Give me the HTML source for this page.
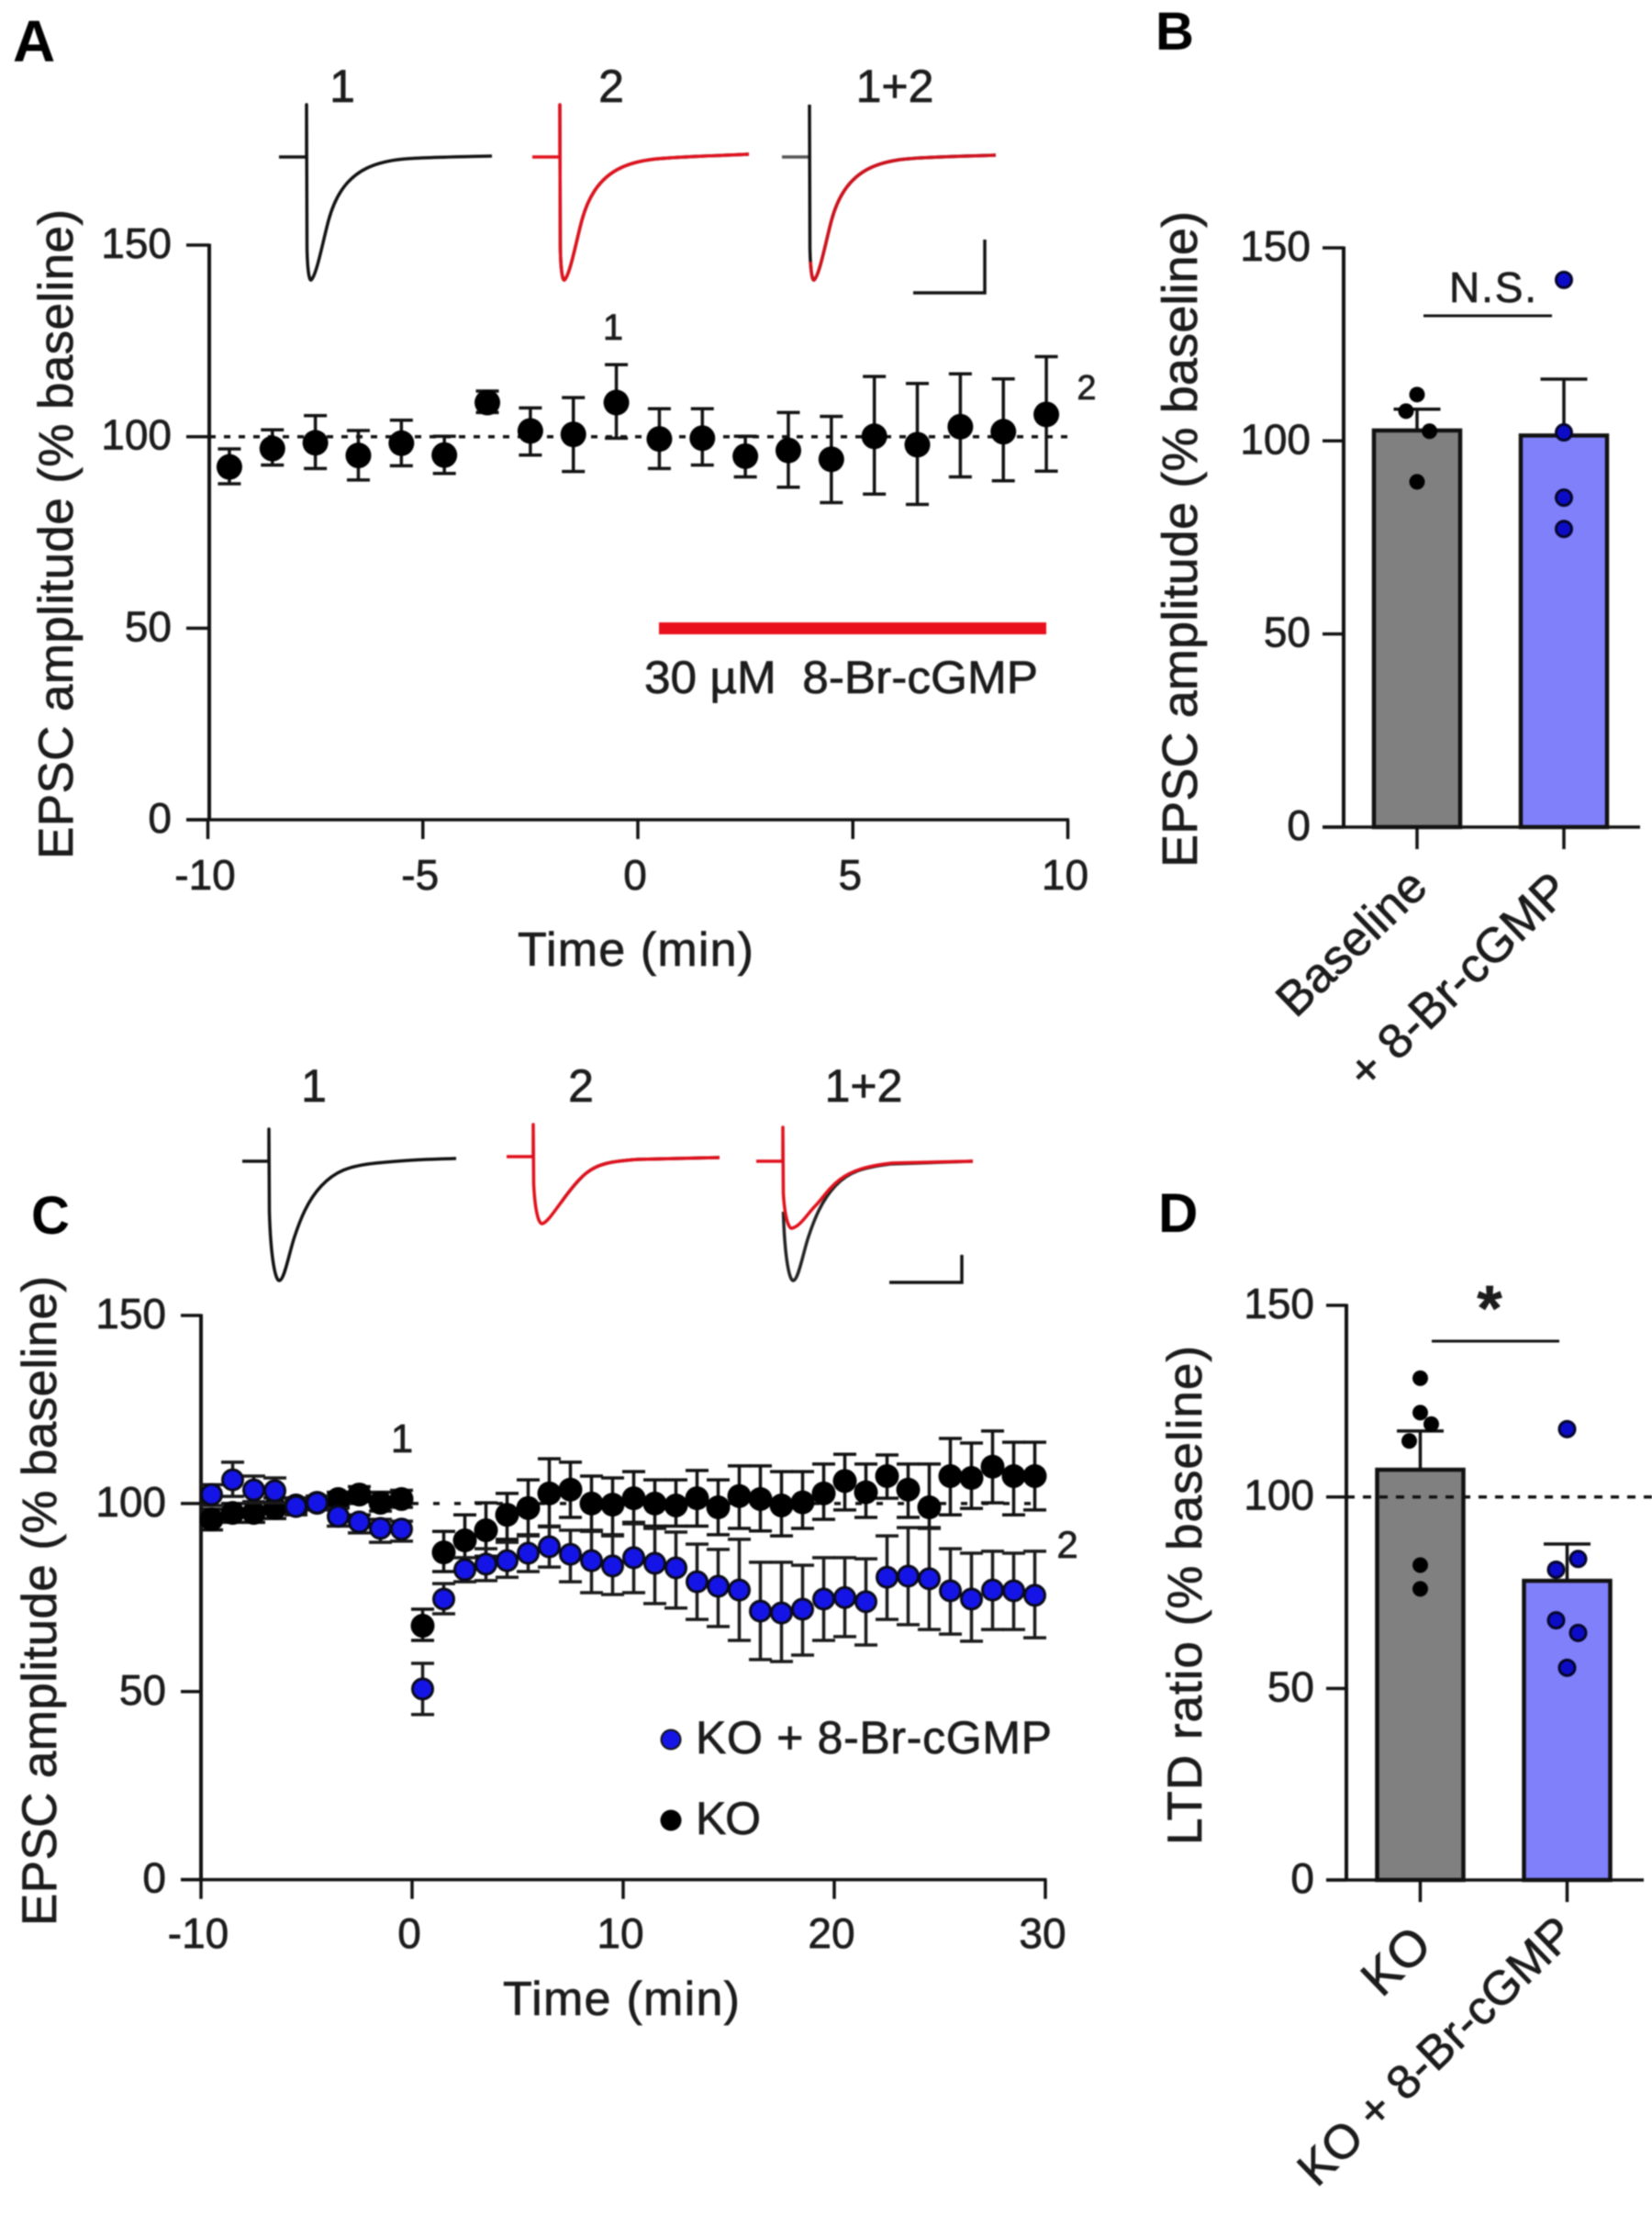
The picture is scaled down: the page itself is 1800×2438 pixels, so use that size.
<!DOCTYPE html>
<html lang="en">
<head>
<meta charset="utf-8">
<title>EPSC amplitude figure</title>
<style>
html,body{margin:0;padding:0;background:#fff;}
body{width:1800px;height:2438px;overflow:hidden;}
svg{display:block;filter:blur(0.8px);}
text{font-family:"Liberation Sans",sans-serif;fill:#1c1c1c;stroke:#1c1c1c;stroke-width:0.7;}
.letter{font-weight:bold;fill:#000;stroke:none;}
.trace{fill:none;stroke-width:3.5;stroke-linejoin:round;}
</style>
</head>
<body>
<svg id="figure" xmlns="http://www.w3.org/2000/svg" width="1800" height="2438" viewBox="0 0 1800 2438">
<rect width="1800" height="2438" fill="#fff"/>

<!-- Panel letters -->
<text class="letter" x="14" y="67" font-size="64">A</text>
<text class="letter" x="1259" y="54" font-size="58">B</text>
<text class="letter" x="34" y="1344" font-size="58">C</text>
<text class="letter" x="1262" y="1342" font-size="60">D</text>

<!-- Panel A traces -->
<g>
<text x="373" y="111" font-size="50" text-anchor="middle">1</text>
<text x="666" y="111" font-size="50" text-anchor="middle">2</text>
<text x="975" y="111" font-size="50" text-anchor="middle">1+2</text>
<path class="trace" stroke="#111" d="M304,171 H334 V114 L334.5,270 C335,295 337,306 339,305 C345,300 352,262 358,240 S375,195 400,183 S450,172 536,170"/>
<path class="trace" stroke="#111" stroke-width="4" d="M610,114 L610.5,270 C611,295 613,306 615,305 C621,300 628,262 634,240 S651,195 676,183 S726,172 816,168"/>
<path class="trace" stroke="#e0101c" stroke-width="3" d="M580,171 H610 V114 L610.5,270 C611,295 613,306 615,305 C621,300 628,262 634,240 S651,195 676,183 S726,172 816,168"/>
<path class="trace" stroke="#555" d="M852,171 H882"/>
<path class="trace" stroke="#111" stroke-width="4" d="M882,114 L882.5,270 C883,295 885,306 887,305 C893,300 900,262 906,240 S923,195 948,183 S998,172 1085,169"/>
<path class="trace" stroke="#d0101c" stroke-width="2.5" d="M883,285 C884,298 885,306 887,305 C893,300 900,262 906,240 S923,195 948,183 S998,172 1085,169"/>
<path fill="none" stroke="#111" stroke-width="3.5" d="M995,319 H1073 V261"/>
</g>
<text x="668" y="370" font-size="40" text-anchor="middle">1</text>
<text x="1184" y="435" font-size="38" text-anchor="middle">2</text>
<text x="702" y="755" font-size="50" textLength="429" lengthAdjust="spacingAndGlyphs">30 µM&#160;&#160;8-Br-cGMP</text>
<rect x="718" y="678" width="422" height="13" fill="#ea0f1c"/>
<text transform="translate(79,936) rotate(-90)" font-size="53" textLength="708">EPSC amplitude (% baseline)</text>
<text x="564" y="1052" font-size="52" textLength="257">Time (min)</text>

<!-- Panel B -->
<text transform="translate(1304,945) rotate(-90)" font-size="54" textLength="715">EPSC amplitude (% baseline)</text>
<text x="1579" y="329" font-size="46" textLength="95">N.S.</text>
<line x1="1551" y1="344" x2="1691" y2="344" stroke="#111" stroke-width="3"/>

<!-- Panel C traces -->
<g>
<text x="342" y="1200" font-size="50" text-anchor="middle">1</text>
<text x="633" y="1200" font-size="50" text-anchor="middle">2</text>
<text x="941" y="1200" font-size="50" text-anchor="middle">1+2</text>
<path class="trace" stroke="#111" d="M264,1265 H293 V1230 L293.5,1320 C295,1370 300,1396 304.5,1395 C310,1394 315,1365 321,1347 S335,1308 350,1292 S380,1270 410,1267 S460,1263 497,1262"/>
<path class="trace" stroke="#111" stroke-width="4" d="M612,1309 S628,1286 640,1277 S665,1265 695,1263 L784,1261"/>
<path class="trace" stroke="#e0101c" stroke-width="3" d="M552,1260 H581 V1225 L581.5,1290 C583,1320 587,1334 591,1333 C597,1331 605,1318 612,1309 S628,1286 640,1277 S665,1265 695,1263 L784,1261"/>
<path class="trace" stroke="#222" stroke-width="3" d="M853.5,1320 C855,1370 860,1396 864.5,1395 C870,1394 875,1365 881,1347 S895,1308 910,1292 S940,1272 970,1268 L1060,1265"/>
<path class="trace" stroke="#e0101c" d="M824,1265 H853 V1228 L853.5,1300 C855,1325 859,1339 863,1338 C872,1336 880,1322 888,1314 S902,1295 915,1285 S945,1270 972,1267 L1060,1265"/>
<path fill="none" stroke="#111" stroke-width="3.5" d="M969,1397 H1048 V1367"/>
</g>
<text x="438" y="1582" font-size="44" text-anchor="middle">1</text>
<text x="1163" y="1697" font-size="42" text-anchor="middle">2</text>
<text transform="translate(61,2098) rotate(-90)" font-size="53" textLength="708">EPSC amplitude (% baseline)</text>
<text x="548" y="2195" font-size="52" textLength="258">Time (min)</text>
<g>
<circle cx="731" cy="1895" r="10.5" fill="#1414e6" stroke="#111" stroke-width="2"/>
<text x="758" y="1910" font-size="50" textLength="388">KO + 8-Br-cGMP</text>
<circle cx="731" cy="1983" r="11.5" fill="#000"/>
<text x="758" y="1998" font-size="50" textLength="71">KO</text>
</g>

<!-- Panel D -->
<text transform="translate(1309,2010) rotate(-90)" font-size="53" textLength="544">LTD ratio (% baseline)</text>
<text x="1623" y="1449" font-size="70" font-weight="bold" text-anchor="middle">*</text>
<line x1="1560" y1="1461" x2="1699" y2="1461" stroke="#111" stroke-width="3"/>
</svg>

<script>
/* ---------- shared ticks ---------- */
const yTickValues = [0, 50, 100, 150];
const xTicksA = [-10, -5, 0, 5, 10];
const xTicksC = [-10, 0, 10, 20, 30];

/* ---------- panel A ---------- */
const timeA = [-9.5,-8.5,-7.5,-6.5,-5.5,-4.5,-3.5,-2.5,-1.5,-0.5,0.5,1.5,2.5,3.5,4.5,5.5,6.5,7.5,8.5,9.5];
const meanA = [92.1,96.9,98.4,95.1,98.3,95.2,108.9,101.5,100.6,108.9,99.4,99.6,94.9,96.4,94.1,100.1,97.9,102.6,101.3,105.8];
const upperA = [96.8,101.8,105.5,101.6,104.3,100.1,111.9,107.5,110.2,118.8,107.3,107.3,100.1,106.3,105.3,115.7,113.9,116.4,115.1,120.9];
const lowerA = [87.7,92.6,91.7,88.7,92.4,90.4,106.3,95.2,90.9,99.6,91.7,92.6,89.5,86.8,82.8,85,82.3,89.5,88.5,91];

/* ---------- panel C ---------- */
const timeC = [-9.5,-8.5,-7.5,-6.5,-5.5,-4.5,-3.5,-2.5,-1.5,-0.5,0.5,1.5,2.5,3.5,4.5,5.5,6.5,7.5,8.5,9.5,10.5,11.5,12.5,13.5,14.5,15.5,16.5,17.5,18.5,19.5,20.5,21.5,22.5,23.5,24.5,25.5,26.5,27.5,28.5,29.5];
const koMean = [95.8,97.5,97.5,98.8,99.5,100.2,101.2,102.4,100.2,101.2,67.5,87,90.2,92.9,97,98.8,102.7,103.7,100,99.7,101.4,100,99.5,101.4,99,102,101.2,99.5,100.3,102.7,106,103,107.3,103.7,99,107.3,106.8,109.8,107.3,107.3];
const koUpper = [98.5,100,100.5,101.5,101.5,102,103,104.5,103,103.5,71.9,92.6,97,100.2,102.7,106.3,111.9,111,107.3,106.8,108.5,106.3,106.3,108.8,106.3,110,110,108.5,108.5,110.5,113.1,110.5,112.9,110.5,110.5,117.3,116.1,119.3,116.3,116.3];
const koLower = [93,95,95,96,97.5,98.5,99.5,100.5,98,99,63.6,81.9,82.4,86,90.5,91.7,94,96.3,92.9,91.7,95,94,94,94,91.7,93.4,92.7,91.4,93.4,95.8,98.3,96.3,101.4,96.3,93.6,97,98.7,100.2,97,98.3];
const cgmpMean = [102.4,106.3,103.6,103.4,99.2,100.2,96.6,95.1,93.4,93.2,50.7,74.6,82.4,83.9,84.8,86.8,88.5,86.5,84.8,83.4,85.6,84.1,82.9,79.2,78,77,71.4,70.9,71.9,74.6,75,73.9,80.4,80.7,80,76.8,74.6,77,76.8,75.6];
const cgmpUpper = [105,111,107.3,106.8,101.2,101.9,98.8,97,95.8,95.3,57.5,78.7,85.6,88,89.7,91.4,93.8,92.9,92.6,91.4,94.6,93.4,92.4,89.2,87.8,90.5,84.4,84.4,83.6,85.6,85.6,85.3,91.4,93.6,93.4,88,86.8,87.3,86.8,87.3];
const cgmpLower = [99.5,101.9,100.2,100.2,97,98.3,94,92.2,89.7,90,43.9,70.7,79.2,79.5,80.4,81.9,83.1,79.2,76.3,75.8,76.3,73.4,72.2,69.2,67.3,63.6,58.5,58,59.7,63.6,64.6,62.4,69.2,67.8,66.5,65.3,63.4,66.5,66.5,64.3];

/* ---------- panel B ---------- */
const categoriesB = ['Baseline', '+ 8-Br-cGMP'];
const barMeansB = [102.7, 101.4];
const barErrorTopB = [108.2, 116];
const dotsB = [[112, 107.7, 102.5, 89.4], [141.7, 102.2, 85.3, 77.2]];
const jitterB = [[0, -0.075, 0.085, 0], [0, 0, 0, 0]];

/* ---------- panel D ---------- */
const categoriesD = ['KO', 'KO + 8-Br-cGMP'];
const barMeansD = [107.1, 78.1];
const barErrorTopD = [117.2, 87.7];
const dotsD = [[131, 122, 119, 114.6, 82.2, 76], [117.7, 83.8, 81, 67.8, 64.5, 55.4]];
const jitterD = [[0, 0, 0.075, -0.075, 0, 0], [0, 0.075, -0.075, -0.075, 0.075, 0]];

/* ---------- axis functions ---------- */
const xA = t => 226.5 + (t + 10) * 46.85;
const yA = v => 893 - v * 4.173;
const xC = t => 449 + t * 23;
const yC = v => 2047.6 - v * 4.097;
const catB = i => 1544 + i * 160;
const yB = v => 901 - v * 4.207;
const catD = i => 1547.5 + i * 160;
const yD = v => 2048 - v * 4.173;

const svg = document.getElementById('figure');
const NS = 'http://www.w3.org/2000/svg';

function make(tag, attrs, parent, text) {
  const node = document.createElementNS(NS, tag);
  for (const k in attrs) node.setAttribute(k, attrs[k]);
  if (text !== undefined) node.textContent = text;
  parent.appendChild(node);
  return node;
}

function drawYAxis(cfg) {
  const g = make('g', {}, svg);
  
  
  const line = make('line', {x1: cfg.x, x2: cfg.x, y1: cfg.y(150) - 1.5, y2: cfg.y(0) + 1.5, stroke: '#111', 'stroke-width': 4}, g);
  
  
  yTickValues.forEach(v => {
    const tick = make('line', {x1: cfg.tickLeft, x2: cfg.x, y1: cfg.y(v), y2: cfg.y(v), stroke: '#111', 'stroke-width': 3.5}, g);
    
    
    const label = make('text', {x: cfg.labelRight, y: cfg.y(v) + 14, 'font-size': 46, 'text-anchor': 'end'}, g, String(v));
    
    
  });
}

function drawTimeAxis(cfg) {
  const g = make('g', {}, svg);
  
  
  const line = make('line', {x1: cfg.tickLeft, x2: cfg.x(cfg.ticks[cfg.ticks.length - 1]) + 1.5, y1: cfg.y(0), y2: cfg.y(0), stroke: '#111', 'stroke-width': 3.5}, g);
  
  
  cfg.ticks.forEach(t => {
    const tick = make('line', {x1: cfg.x(t), x2: cfg.x(t), y1: cfg.y(0), y2: cfg.y(0) + 21, stroke: '#111', 'stroke-width': 3.5}, g);
    
    
    const label = make('text', {x: cfg.x(t) - 3, y: cfg.labelY, 'font-size': 46, 'text-anchor': 'middle'}, g, String(t));
    
    
  });
}

function drawDashed(x1, x2, y, dash, name) {
  const line = make('line', {x1: x1, x2: x2, y1: y, y2: y, stroke: '#111', 'stroke-width': 3.5, 'stroke-dasharray': dash}, svg);
  
  
}

function drawSeries(cfg) {
  const g = make('g', {}, svg);
  
  
  cfg.times.forEach((t, i) => {
    const px = cfg.x(t);
    const top = cfg.y(cfg.upper[i]);
    const bottom = cfg.y(cfg.lower[i]);
    const bar = make('path', {
      d: 'M' + (px - 12.5) + ',' + top + 'H' + (px + 12.5) + 'M' + px + ',' + top + 'V' + bottom + 'M' + (px - 12.5) + ',' + bottom + 'H' + (px + 12.5),
      fill: 'none', stroke: cfg.errColor, 'stroke-width': 3.5
    }, g);
    
    
  });
  cfg.times.forEach((t, i) => {
    const dot = make('circle', {cx: cfg.x(t), cy: cfg.y(cfg.mean[i]), r: cfg.r, fill: cfg.fill, stroke: cfg.stroke, 'stroke-width': cfg.strokeWidth}, g);
    
    
  });
}

function drawBars(cfg) {
  const g = make('g', {}, svg);
  
  
  const axis = make('line', {x1: cfg.axisLeft, x2: cfg.axisRight, y1: cfg.y(0), y2: cfg.y(0), stroke: '#111', 'stroke-width': 3.5}, g);
  
  
  cfg.means.forEach((m, i) => {
    const cx = cfg.cat(i);
    const err = make('path', {
      d: 'M' + (cx - 25.5) + ',' + cfg.y(cfg.errorTop[i]) + 'H' + (cx + 25.5) + 'M' + cx + ',' + cfg.y(cfg.errorTop[i]) + 'V' + cfg.y(m),
      fill: 'none', stroke: '#111', 'stroke-width': 3.5
    }, g);
    
    
    const bar = make('rect', {x: cx - 47, y: cfg.y(m), width: 94, height: cfg.y(0) - cfg.y(m), fill: cfg.fills[i], stroke: '#111', 'stroke-width': 4.5}, g);
    
    
    const tick = make('line', {x1: cx, x2: cx, y1: cfg.y(0), y2: cfg.y(0) + 24, stroke: '#111', 'stroke-width': 3.5}, g);
    
    
    const label = make('text', {
      transform: 'translate(' + (cx + cfg.labelDx[i]) + ',' + (cfg.y(0) + cfg.labelDy[i]) + ') rotate(-44)',
      'font-size': cfg.labelSize[i], 'text-anchor': 'end'
    }, g, cfg.labels[i]);
    
    
    cfg.dots[i].forEach((d, j) => {
      const dot = make('circle', {
        cx: cx + cfg.jitter[i][j] * 160, cy: cfg.y(d), r: 8.5,
        fill: i === 0 ? '#000' : '#0c0cc8', stroke: '#05052a', 'stroke-width': i === 0 ? 0 : 3
      }, g);
      
      
    });
  });
}

/* ---------- panel A ---------- */
drawDashed(228, 1164, yA(100), '7 9', 'baseline-dashed-line-a');
drawYAxis({id: 'a', x: 228, y: yA, tickLeft: 203, labelRight: 187});
drawTimeAxis({id: 'a', x: xA, y: yA, ticks: xTicksA, tickLeft: 203, labelY: 969});
drawSeries({id: 'a', times: timeA, mean: meanA, upper: upperA, lower: lowerA, x: xA, y: yA, r: 14, fill: '#000', stroke: 'none', strokeWidth: 0, errColor: '#111'});

/* ---------- panel C ---------- */
drawDashed(219, 1139, yC(100), '7 16', 'baseline-dashed-line-c');
drawYAxis({id: 'c', x: 219, y: yC, tickLeft: 197, labelRight: 181});
drawTimeAxis({id: 'c', x: xC, y: yC, ticks: xTicksC, tickLeft: 197, labelY: 2122});
drawSeries({id: 'ko', times: timeC, mean: koMean, upper: koUpper, lower: koLower, x: xC, y: yC, r: 13, fill: '#000', stroke: 'none', strokeWidth: 0, errColor: '#111'});
drawSeries({id: 'ko-cgmp', times: timeC, mean: cgmpMean, upper: cgmpUpper, lower: cgmpLower, x: xC, y: yC, r: 11, fill: '#1414e6', stroke: '#0a0a1a', strokeWidth: 3, errColor: '#1a1a1a'});

/* ---------- panel B ---------- */
drawYAxis({id: 'b', x: 1464, y: yB, tickLeft: 1441, labelRight: 1428});
drawBars({id: 'b', means: barMeansB, errorTop: barErrorTopB, dots: dotsB, jitter: jitterB, labels: categoriesB, cat: catB, y: yB,
  fills: ['#808080', '#8080fb'], axisLeft: 1441, axisRight: 1787, labelDx: [14, 9], labelDy: [68, 72], labelSize: [53, 53]});

/* ---------- panel D ---------- */
drawYAxis({id: 'd', x: 1467, y: yD, tickLeft: 1445, labelRight: 1432});
drawBars({id: 'd', means: barMeansD, errorTop: barErrorTopD, dots: dotsD, jitter: jitterD, labels: categoriesD, cat: catD, y: yD,
  fills: ['#808080', '#8080fb'], axisLeft: 1445, axisRight: 1791, labelDx: [15, 11], labelDy: [74, 62], labelSize: [55, 52]});
drawDashed(1467, 1800, yD(100), '9 9', 'baseline-dashed-line-d');
</script>
</body>
</html>
